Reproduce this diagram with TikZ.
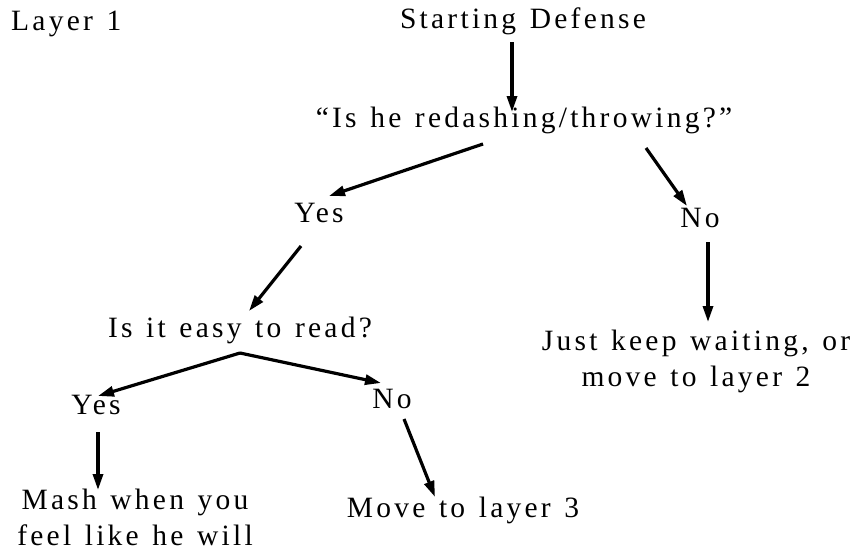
\documentclass[tikz,border=0pt]{standalone}
\usepackage{fontspec}
\setmainfont[LetterSpace=11,WordSpace=1.28]{Liberation Serif}
\usetikzlibrary{arrows.meta}
\begin{document}
\begin{tikzpicture}[x=1pt,y=-1pt,
  lbl/.style={inner sep=0pt,anchor=base,align=center,
    font=\fontsize{29.5}{35.5}\selectfont},
  arr/.style={line width=3.2pt,-{Triangle[length=16pt,width=10pt]}}]
\useasboundingbox[fill=white] (0,0) rectangle (854,550);

% decision tree labels (base anchor = baseline of the last line)
\node[lbl,anchor=base west] (layer) at (11,30) {Layer 1};
\node[lbl] (start) at (523,28) {Starting Defense};
\node[lbl] (q1) at (524,127) {“Is he redashing/throwing?”};
\node[lbl] (yes1) at (319,222) {Yes};
\node[lbl] (no1) at (700,227) {No};
\node[lbl] (q2) at (240,337) {Is it easy to read?};
\node[lbl] (wait1) at (696,386) {Just keep waiting, or\\move to layer 2};
\node[lbl] (yes2) at (96,414) {Yes};
\node[lbl] (no2) at (392,408) {No};
\node[lbl] (mash) at (135,545) {Mash when you\\feel like he will};
\node[lbl] (move3) at (463,517) {Move to layer 3};

% connectors
\draw[arr] ([shift={(-11,14)}]start.base) -- ([shift={(-12,-15)}]q1.base);
\draw[arr] ([shift={(-41,17)}]q1.base) -- ([shift={(10,-26)}]yes1.base);
\draw[arr] ([shift={(122,21)}]q1.base) -- ([shift={(-13,-21)}]no1.base);
\draw[arr] ([shift={(-18,24)}]yes1.base) -- ([shift={(9,-26)}]q2.base);
\draw[arr] ([shift={(8,15)}]no1.base) -- ([shift={(12,-64)}]wait1.base);
\draw[arr] ([shift={(0,16)}]q2.base) -- ([shift={(2,-18)}]yes2.base);
\draw[arr] ([shift={(0,16)}]q2.base) -- ([shift={(-11,-25)}]no2.base);
\draw[arr] ([shift={(2,18)}]yes2.base) -- ([shift={(-37,-55)}]mash.base);
\draw[arr] ([shift={(12,11)}]no2.base) -- ([shift={(-28,-20)}]move3.base);
\end{tikzpicture}
\end{document}
